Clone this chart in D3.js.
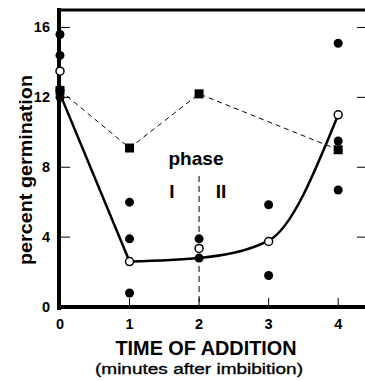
<!DOCTYPE html>
<html>
<head>
<meta charset="utf-8">
<script src="https://cdn.jsdelivr.net/npm/d3@7"></script>
<style>
  body { margin: 0; background: #fff; }
  text { font-family: "Liberation Sans", Arial, sans-serif; fill: #000; }
</style>
</head>
<body>
<div id="chart"></div>
<script>
// individual filled dots
const dotX = [0, 0, 0, 0, 1, 1, 1, 2, 2, 3, 3, 4, 4, 4];
const dotY = [15.6, 14.4, 12.4, 12.0, 6.0, 3.9, 0.8, 3.9, 2.8, 5.85, 1.8, 15.1, 9.5, 6.7];
// means (open circles)
const meanX = [0, 1, 2, 3, 4];
const meanY = [13.5, 2.6, 3.35, 3.75, 11.0];
// fitted curve
const curveX = [0, 1, 2, 3, 4];
const curveY = [12.2, 2.6, 2.8, 3.8, 11.0];
// squares (dashed series)
const sqX = [0, 1, 2, 4];
const sqY = [12.4, 9.1, 12.2, 9.0];
const xTicks = [0, 1, 2, 3, 4];
const yTicks = [0, 4, 8, 12, 16];

const width = 365, height = 381;
const svg = d3.select("#chart").append("svg")
  .attr("width", width).attr("height", height);

const x = d3.scaleLinear().domain([0, 4.4]).range([60, 366]);
const y = d3.scaleLinear().domain([0, 17]).range([307, 10]);

// frame
svg.append("line").attr("x1", 59).attr("x2", 59).attr("y1", 8).attr("y2", 310)
  .attr("stroke", "#000").attr("stroke-width", 4);
svg.append("line").attr("x1", 57).attr("x2", 366).attr("y1", 307).attr("y2", 307)
  .attr("stroke", "#000").attr("stroke-width", 4);
svg.append("line").attr("x1", 57).attr("x2", 366).attr("y1", 10).attr("y2", 10)
  .attr("stroke", "#000").attr("stroke-width", 3);

// ticks
yTicks.filter(d => d > 0).forEach(d => {
  svg.append("line").attr("x1", 61).attr("x2", 70).attr("y1", y(d)).attr("y2", y(d))
    .attr("stroke", "#000").attr("stroke-width", 1);
  svg.append("line").attr("x1", 357).attr("x2", 365).attr("y1", y(d)).attr("y2", y(d))
    .attr("stroke", "#000").attr("stroke-width", 1);
});
xTicks.filter(d => d > 0).forEach(d => {
  svg.append("line").attr("x1", x(d)).attr("x2", x(d)).attr("y1", 305).attr("y2", 298)
    .attr("stroke", "#000").attr("stroke-width", 1);
});

// tick labels
svg.selectAll(".ylab").data(yTicks).enter().append("text")
  .attr("x", 50).attr("y", d => y(d) + 5)
  .attr("text-anchor", "end").attr("font-size", 14.5).attr("font-weight", "bold")
  .text(d => d);
svg.selectAll(".xlab").data(xTicks).enter().append("text")
  .attr("x", d => x(d)).attr("y", 329)
  .attr("text-anchor", "middle").attr("font-size", 14.5).attr("font-weight", "bold")
  .text(d => d);

// axis titles
svg.append("text").attr("transform", "translate(32,170) rotate(-90)")
  .attr("text-anchor", "middle").attr("font-size", 18.5).attr("font-weight", "bold")
  .attr("textLength", 190).attr("lengthAdjust", "spacingAndGlyphs")
  .text("percent germination");
svg.append("text").attr("x", 206).attr("y", 355)
  .attr("text-anchor", "middle").attr("font-size", 20).attr("font-weight", "bold")
  .attr("textLength", 181).attr("lengthAdjust", "spacingAndGlyphs")
  .text("TIME OF ADDITION");
svg.append("text").attr("x", 199).attr("y", 374)
  .attr("text-anchor", "middle").attr("font-size", 15.5)
  .attr("stroke", "#000").attr("stroke-width", 0.35)
  .attr("textLength", 208).attr("lengthAdjust", "spacingAndGlyphs")
  .text("(minutes after imbibition)");

// phase annotation
svg.append("line").attr("x1", x(2)).attr("x2", x(2)).attr("y1", 176).attr("y2", 305)
  .attr("stroke", "#000").attr("stroke-width", 1).attr("stroke-dasharray", "6,4");
svg.append("text").attr("x", 196).attr("y", 165)
  .attr("text-anchor", "middle").attr("font-size", 19).attr("font-weight", "bold")
  .attr("textLength", 55).attr("lengthAdjust", "spacingAndGlyphs")
  .text("phase");
svg.append("text").attr("x", 172).attr("y", 198)
  .attr("text-anchor", "middle").attr("font-size", 19).attr("font-weight", "bold")
  .text("I");
svg.append("text").attr("x", 221).attr("y", 198)
  .attr("text-anchor", "middle").attr("font-size", 19).attr("font-weight", "bold")
  .text("II");

// dashed series
const sqData = sqX.map((d, i) => [d, sqY[i]]);
svg.append("path").datum(sqData)
  .attr("d", d3.line().x(d => x(d[0])).y(d => y(d[1])))
  .attr("fill", "none").attr("stroke", "#000").attr("stroke-width", 1)
  .attr("stroke-dasharray", "5,4");

// fitted curve: steep drop to 1 min, then smooth rise
const curveData = curveX.map((d, i) => [d, curveY[i]]);
const curveLine = d3.line().x(d => x(d[0])).y(d => y(d[1]));
svg.append("path").datum(curveData.slice(0, 2))
  .attr("d", curveLine.curve(d3.curveLinear))
  .attr("fill", "none").attr("stroke", "#000").attr("stroke-width", 2.5);
svg.append("path").datum(curveData.slice(1))
  .attr("d", curveLine.curve(d3.curveMonotoneX))
  .attr("fill", "none").attr("stroke", "#000").attr("stroke-width", 2.5);

// squares
svg.selectAll(".sq").data(sqData).enter().append("rect")
  .attr("x", d => x(d[0]) - 4.5).attr("y", d => y(d[1]) - 4.5)
  .attr("width", 9).attr("height", 9).attr("fill", "#000");

// filled dots
svg.selectAll(".dot").data(dotX.map((d, i) => [d, dotY[i]])).enter().append("circle")
  .attr("cx", d => x(d[0])).attr("cy", d => y(d[1])).attr("r", 4.5)
  .attr("fill", "#000");

// open circles
svg.selectAll(".mean").data(meanX.map((d, i) => [d, meanY[i]])).enter().append("circle")
  .attr("cx", d => x(d[0])).attr("cy", d => y(d[1])).attr("r", 4)
  .attr("fill", "#fff").attr("stroke", "#000").attr("stroke-width", 1.5);
</script>
</body>
</html>
